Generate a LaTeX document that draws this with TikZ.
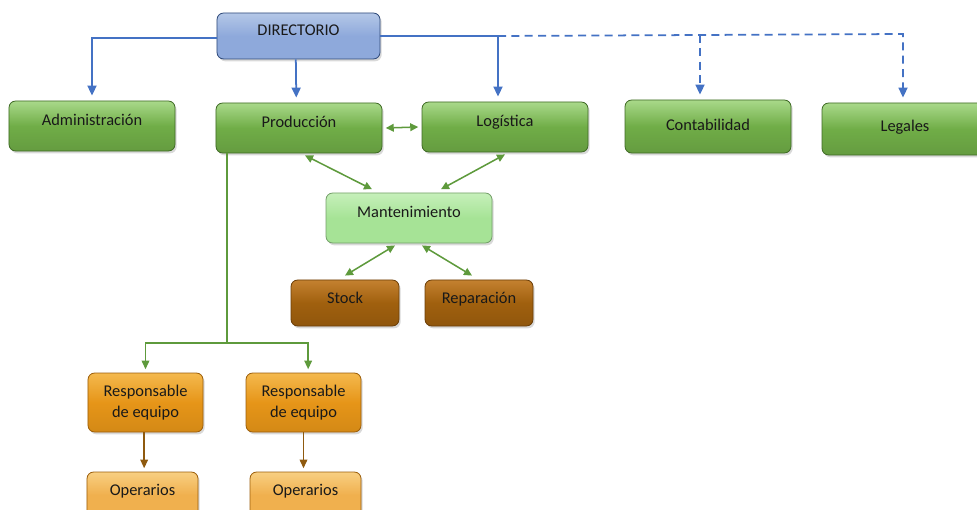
\documentclass[tikz,border=0pt]{standalone}
\usepackage{fontspec}
\setmainfont{Carlito}
\usetikzlibrary{arrows.meta,shadows}

\definecolor{dirblue}{HTML}{8EA9DB}
\definecolor{dirtop}{HTML}{B4C7E7}
\definecolor{dirline}{HTML}{2F4A7A}
\definecolor{linkblue}{HTML}{4472C4}
\definecolor{boxgreen}{HTML}{70AD47}
\definecolor{boxgreentop}{HTML}{A9D98A}
\definecolor{greenline}{HTML}{3F6A25}
\definecolor{linkgreen}{HTML}{5E9A3C}
\definecolor{lightgreen}{HTML}{A6E396}
\definecolor{lightgreentop}{HTML}{C6F0BA}
\definecolor{brownbox}{HTML}{A0600E}
\definecolor{browntop}{HTML}{C48130}
\definecolor{brownline}{HTML}{6B3E08}
\definecolor{orangebox}{HTML}{E69518}
\definecolor{orangetop}{HTML}{F4B94E}
\definecolor{orangeline}{HTML}{9C5E0A}
\definecolor{opbox}{HTML}{F0B04E}
\definecolor{optop}{HTML}{F8CF82}
\definecolor{linkbrown}{HTML}{8F5A0F}

\tikzset{
  box/.style={rounded corners=2mm, line width=.7pt, align=center,
    font=\fontsize{14}{18}\selectfont, text=black!90,
    drop shadow={shadow xshift=.5mm, shadow yshift=-.7mm, opacity=.3}},
  hightext/.style={text height=.4cm, text depth=.44cm},
  dirbox/.style={box, hightext, draw=dirline, top color=dirtop, bottom color=dirblue,
    middle color=dirblue, minimum width=4.89cm, minimum height=1.38cm},
  areabox/.style={box, hightext, draw=greenline, top color=boxgreentop,
    bottom color=boxgreen!90!black, middle color=boxgreen,
    minimum width=4.98cm, minimum height=1.5cm},
  mantbox/.style={box, hightext, draw=lightgreen!70!black, top color=lightgreentop,
    bottom color=lightgreen, middle color=lightgreen,
    minimum width=4.98cm, minimum height=1.5cm},
  subbox/.style={box, draw=brownline, top color=browntop, bottom color=brownbox!90!black,
    middle color=brownbox, minimum width=3.24cm, minimum height=1.38cm,
    text height=.4cm, text depth=.37cm},
  respbox/.style={box, draw=orangeline, top color=orangetop, bottom color=orangebox!92!black,
    middle color=orangebox, minimum width=3.45cm, minimum height=1.77cm},
  opbox/.style={box, draw=orangeline, top color=optop, bottom color=opbox,
    middle color=opbox, minimum width=3.33cm, minimum height=1.38cm,
    text height=.4cm, text depth=.38cm},
  bluearrow/.style={draw=linkblue, line width=1.5pt,
    -{Triangle[length=3mm,width=2.7mm]}, shorten >=1.5mm},
  greenarrow/.style={draw=linkgreen, line width=1.3pt,
    {Triangle[length=2.4mm,width=2.3mm]}-{Triangle[length=2.4mm,width=2.3mm]}},
  downarrow/.style={draw=#1, line width=1.2pt,
    -{Triangle[length=2.6mm,width=2.3mm]}, shorten >=1mm},
}

\begin{document}
\begin{tikzpicture}[x=0.03cm, y=-0.03cm]
  \useasboundingbox (0,0) rectangle (977,510);

  % nodes
  \node[dirbox]  (dir)  at (298.5,36)  {DIRECTORIO};
  \node[areabox] (adm)  at (92,126)    {Administración};
  \node[areabox] (prod) at (299,128)   {Producción};
  \node[areabox] (log)  at (505,127)   {Logística};
  \node[areabox, text depth=.17cm, minimum height=1.59cm]
                 (cont) at (708,126.5) {Contabilidad};
  \node[areabox, text depth=.26cm, minimum height=1.56cm]
                 (leg)  at (905,129)   {Legales};
  \node[mantbox] (mant) at (409,218)   {Mantenimiento};
  \node[subbox]  (stock) at (345,303)  {Stock};
  \node[subbox]  (rep)  at (479,303)   {Reparación};
  \node[respbox] (resp1) at (145.5,402.5) {Responsable\\de equipo};
  \node[respbox] (resp2) at (303.5,402.5) {Responsable\\de equipo};
  \node[opbox]   (op1)  at (142.5,495) {Operarios};
  \node[opbox]   (op2)  at (305.5,495) {Operarios};

  \coordinate (login) at ([xshift=-2.1mm]log.north);
  \coordinate (contin) at ([xshift=-2.4mm]cont.north);
  \coordinate (legin) at ([xshift=-.6mm]leg.north);
  \coordinate (split) at ([xshift=-21.6mm]prod.south |- 0,343);

  % direction lines
  \draw[bluearrow] ([yshift=-.06cm]dir.west) -| (adm.north);
  \draw[bluearrow] ([xshift=-.08cm]dir.south) -- ([xshift=-.08cm]prod.north);
  \draw[bluearrow] (dir.east) -| (login);
  \draw[bluearrow, dashed, dash pattern=on 2.4mm off 1.6mm]
    (dir.east -| login) -- ++(405,-2) coordinate (dend) -- (dend |- legin);
  \draw[bluearrow, dashed, dash pattern=on 2.4mm off 1.6mm]
    (contin |- dir.east) ++(0,-1) -- (contin);

  % areas
  \draw[greenarrow] (prod.east) ++(.1cm,0) -- ([xshift=-.1cm]log.west);
  \draw[greenarrow] ([xshift=.18cm,yshift=-.06cm]prod.south) -- ([xshift=-1.11cm,yshift=.1cm]mant.north);
  \draw[greenarrow] ([yshift=-.06cm]log.south) -- ([xshift=.96cm,yshift=.1cm]mant.north);
  \draw[greenarrow] ([xshift=-.42cm,yshift=-.06cm]mant.south) -- ([yshift=.12cm]stock.north);
  \draw[greenarrow] ([xshift=.39cm,yshift=-.06cm]mant.south) -- ([xshift=-.21cm,yshift=.12cm]rep.north);

  % produccion
  \draw[draw=linkgreen, line width=1.3pt] ([xshift=-21.6mm]prod.south) -- (split);
  \draw[downarrow=linkgreen] (split) -| (resp1.north);
  \draw[downarrow=linkgreen] (split) -| ([xshift=.14cm]resp2.north);
  \draw[downarrow=linkbrown] ([xshift=-.04cm]resp1.south) -- ([xshift=-.04cm]resp1.south |- op1.north);
  \draw[downarrow=linkbrown] (resp2.south) -- (resp2.south |- op2.north);
\end{tikzpicture}
\end{document}
